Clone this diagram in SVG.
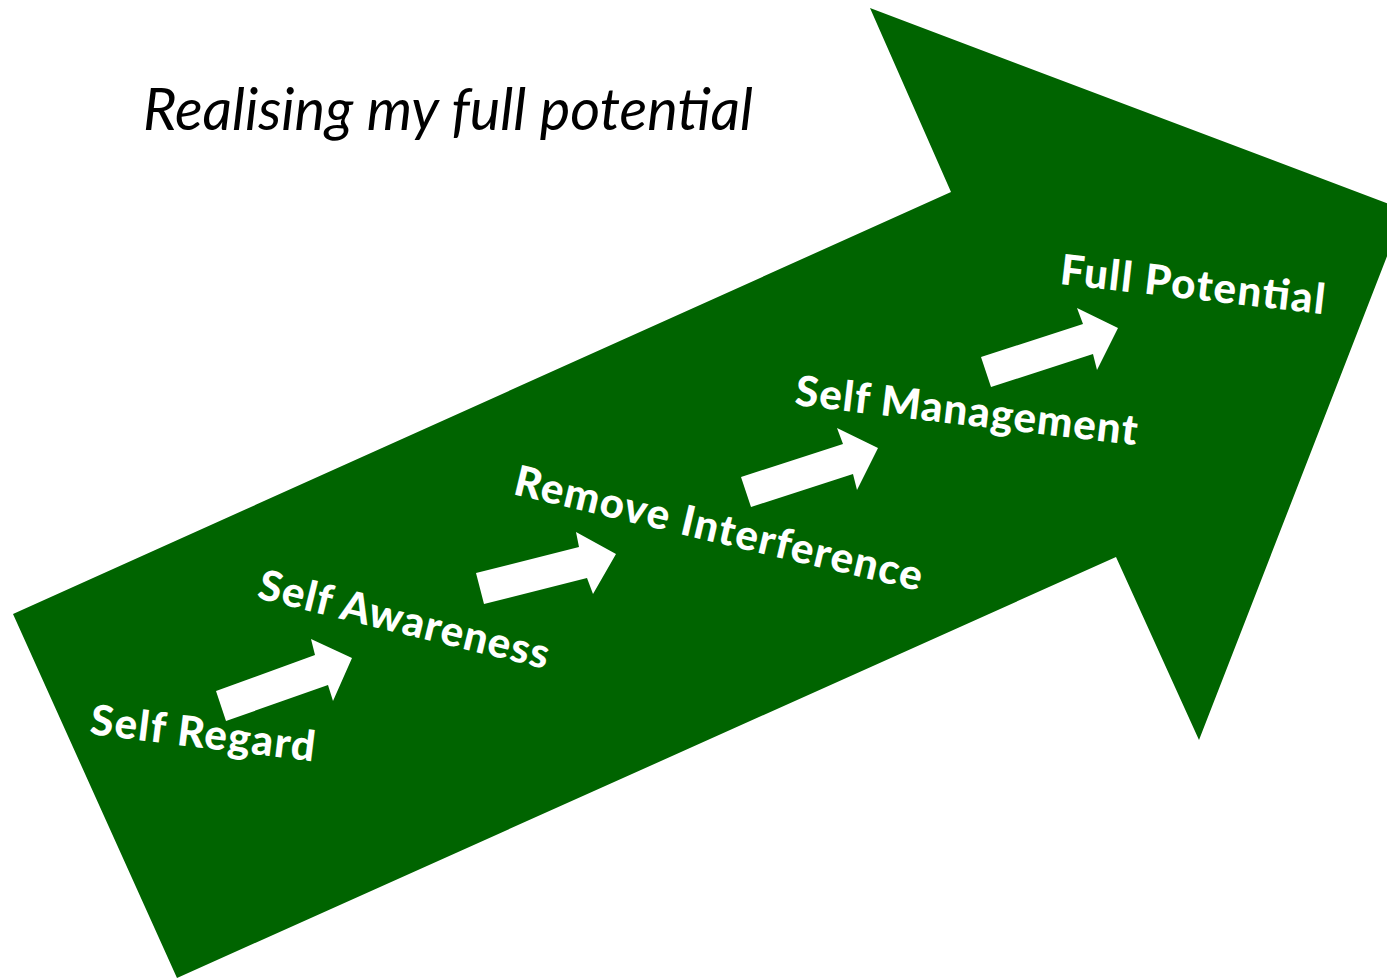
<svg xmlns="http://www.w3.org/2000/svg" width="1387" height="979" viewBox="0 0 1387 979">
<style>
.big{fill:#006400}
.step{fill:#ffffff}
.lbl{font-family:Lato,"Open Sans","Liberation Sans",sans-serif;font-weight:900;font-size:42px;fill:#ffffff}
.title{font-family:Lato,"Liberation Sans",sans-serif;font-style:italic;font-size:58px;fill:#000000}
</style>
<rect width="1387" height="979" fill="#ffffff"/>
<g id="big-arrow">
<polygon class="big" points="13,614 951,192 870,8 1405,210 1199,740 1116,557 177,978"/>
</g>
<g id="title">
<text class="title" x="143" y="130" textLength="610" lengthAdjust="spacingAndGlyphs">Realising my full potential</text>
</g>
<g id="connectors">
<polygon class="step" points="216,691 315,655 311,639 352,658 333,701 328,685 226,721"/>
<polygon class="step" points="476,573 579,547 576,532 616,554 593,594 587,578 484,604"/>
<polygon class="step" points="741,477 843,444 837,428 878,448 857,490 853,474 751,507"/>
<polygon class="step" points="981,357 1083,324 1077,308 1118,328 1097,370 1093,354 991,387"/>
</g>
<g id="self-regard">
<text class="lbl" transform="translate(89,734) rotate(7)" textLength="226">Self Regard</text>
</g>
<g id="self-awareness">
<text class="lbl" transform="translate(256,598) rotate(13.8)" textLength="298">Self Awareness</text>
</g>
<g id="remove-interference">
<text class="lbl" transform="translate(512,494) rotate(13.4)" textLength="418">Remove Interference</text>
</g>
<g id="self-management">
<text class="lbl" transform="translate(794,405) rotate(6.7)" textLength="344">Self Management</text>
</g>
<g id="full-potential">
<text class="lbl" transform="translate(1059,284) rotate(6.5)" textLength="266">Full Potential</text>
</g>
</svg>
